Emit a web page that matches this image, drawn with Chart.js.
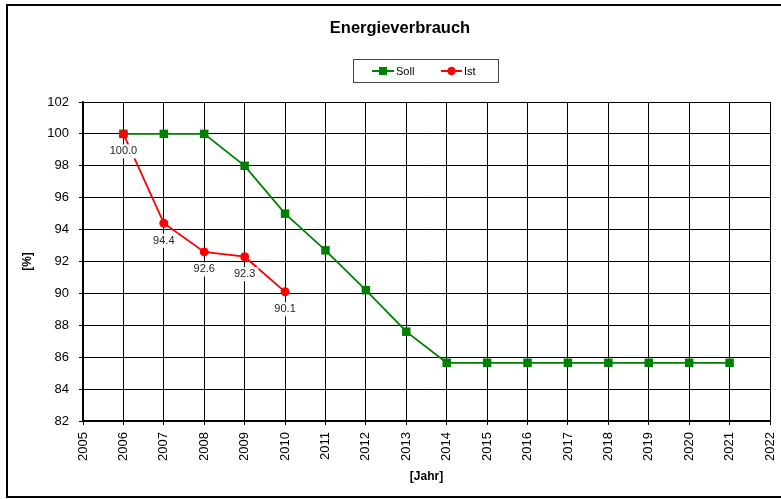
<!DOCTYPE html>
<html>
<head>
<meta charset="utf-8">
<script src="https://cdn.jsdelivr.net/npm/chart.js@4.4.0/dist/chart.umd.min.js"></script>
<style>
  html, body { margin: 0; padding: 0; background: #fff; }
  #wrap { position: relative; width: 781px; height: 499px; }
  canvas { display: block; }
</style>
</head>
<body>
<div id="wrap"><canvas id="c" width="781" height="499"></canvas></div>
<script>
const chartTitle = 'Energieverbrauch';
const xAxisTitle = '[Jahr]';
const yAxisTitle = '[%]';
const years = ['2005','2006','2007','2008','2009','2010','2011','2012','2013','2014','2015','2016','2017','2018','2019','2020','2021','2022'];
const sollValues = [null, 100, 100, 100, 98, 95, 92.7, 90.2, 87.6, 85.65, 85.65, 85.65, 85.65, 85.65, 85.65, 85.65, 85.65, null];
const istValues  = [null, 100.0, 94.4, 92.6, 92.3, 90.1, null, null, null, null, null, null, null, null, null, null, null, null];
const seriesNames = ['Soll', 'Ist'];
const yMin = 82, yMax = 102, yStep = 2;

const FONT = 'Arial, "Liberation Sans", sans-serif';
const GREEN = '#008000';
const RED = '#ff0000';

const framePlugin = {
  id: 'frame',
  beforeDraw(chart) {
    const ctx = chart.ctx;
    ctx.save();
    ctx.fillStyle = '#fff';
    ctx.fillRect(0, 0, chart.width, chart.height);
    ctx.strokeStyle = '#000';
    ctx.lineWidth = 2;
    ctx.strokeRect(7, 5, 800, 492);
    ctx.restore();
  },
  afterDraw(chart) {
    const ctx = chart.ctx;
    const a = chart.chartArea;
    ctx.save();
    ctx.fillStyle = '#000';
    ctx.font = 'bold 16.5px ' + FONT;
    ctx.textAlign = 'center';
    ctx.textBaseline = 'middle';
    ctx.fillText(chartTitle, 400, 28);
    ctx.font = 'bold 12px ' + FONT;
    ctx.fillText(xAxisTitle, (a.left + a.right) / 2, 477);
    ctx.save();
    ctx.translate(28, (a.top + a.bottom) / 2);
    ctx.rotate(-Math.PI / 2);
    ctx.fillText(yAxisTitle, 0, 0);
    ctx.restore();
    ctx.strokeStyle = '#444';
    ctx.lineWidth = 1;
    ctx.strokeRect(353.5, 59.5, 145, 23);
    const ly = 71;
    const items = [
      {name: seriesNames[0], color: GREEN, x1: 372, x2: 394, tx: 396, shape: 'rect'},
      {name: seriesNames[1], color: RED, x1: 441, x2: 462, tx: 464, shape: 'circle'}
    ];
    ctx.font = '11px ' + FONT;
    ctx.textAlign = 'left';
    items.forEach(it => {
      ctx.strokeStyle = it.color;
      ctx.lineWidth = 2;
      ctx.beginPath();
      ctx.moveTo(it.x1, ly);
      ctx.lineTo(it.x2, ly);
      ctx.stroke();
      ctx.fillStyle = it.color;
      const cx = (it.x1 + it.x2) / 2;
      if (it.shape === 'rect') {
        ctx.fillRect(cx - 4, ly - 4, 8, 8);
      } else {
        ctx.beginPath();
        ctx.arc(cx, ly, 4.2, 0, Math.PI * 2);
        ctx.fill();
      }
      ctx.fillStyle = '#000';
      ctx.fillText(it.name, it.tx, ly + 0.5);
    });
    ctx.restore();
  }
};

const labelPlugin = {
  id: 'pointLabels',
  afterDatasetsDraw(chart) {
    const ctx = chart.ctx;
    const dsIndex = 1;
    const meta = chart.getDatasetMeta(dsIndex);
    const data = chart.data.datasets[dsIndex].data;
    ctx.save();
    ctx.font = '11px ' + FONT;
    ctx.textAlign = 'center';
    ctx.textBaseline = 'middle';
    meta.data.forEach((pt, i) => {
      const v = data[i];
      if (v === null || v === undefined) return;
      const txt = v.toFixed(1);
      const w = ctx.measureText(txt).width;
      const cy = pt.y + 17.5;
      ctx.fillStyle = '#fff';
      ctx.fillRect(pt.x - w / 2 - 3, cy - 7, w + 6, 14);
      ctx.fillStyle = '#222';
      ctx.fillText(txt, pt.x, cy);
    });
    ctx.restore();
  }
};

new Chart(document.getElementById('c'), {
  type: 'line',
  data: {
    labels: years,
    datasets: [
      {
        label: seriesNames[0],
        data: sollValues,
        borderColor: GREEN,
        backgroundColor: GREEN,
        borderWidth: 1.8,
        pointStyle: 'rect',
        pointRadius: 6,
        pointBorderWidth: 0,
        tension: 0,
        order: 2
      },
      {
        label: seriesNames[1],
        data: istValues,
        borderColor: RED,
        backgroundColor: RED,
        borderWidth: 1.8,
        pointStyle: 'circle',
        pointRadius: 4.5,
        pointBorderWidth: 0,
        tension: 0,
        order: 1
      }
    ]
  },
  options: {
    responsive: false,
    animation: false,
    devicePixelRatio: 1,
    layout: { padding: { left: 0, top: 102, right: 11, bottom: 0 } },
    plugins: {
      legend: { display: false },
      title: { display: false },
      tooltip: { enabled: false }
    },
    scales: {
      x: {
        type: 'category',
        offset: false,
        afterFit(s) { s.height = 78; s.paddingLeft = 0; s.paddingRight = 0; },
        grid: { color: '#000', lineWidth: 1, tickLength: 4, drawTicks: true, offset: false },
        border: { color: '#000', width: 1.5 },
        ticks: {
          autoSkip: false,
          minRotation: 90,
          maxRotation: 90,
          padding: 7,
          color: '#000',
          font: { family: FONT, size: 13 }
        }
      },
      y: {
        min: yMin,
        max: yMax,
        afterFit(s) { s.width = 83; s.paddingTop = 0; s.paddingBottom = 0; },
        grid: { color: '#000', lineWidth: 1, tickLength: 4 },
        border: { color: '#000', width: 1.5 },
        ticks: {
          stepSize: yStep,
          padding: 10,
          color: '#000',
          font: { family: FONT, size: 13 }
        }
      }
    }
  },
  plugins: [framePlugin, labelPlugin]
});
</script>
</body>
</html>
